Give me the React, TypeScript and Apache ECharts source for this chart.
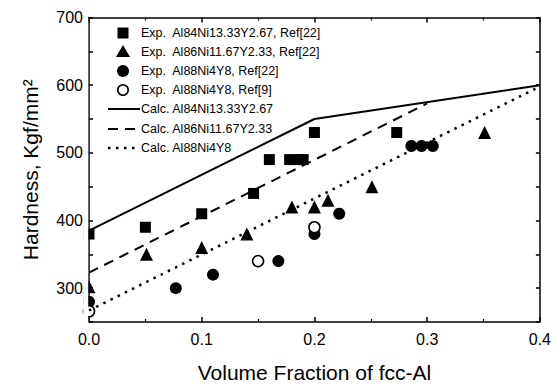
import React, { useEffect, useRef } from "react";
import * as echarts from "echarts";

// Experimental data: [volume fraction, hardness]
const expAl84: number[][] = [
  [0, 380], [0.05, 390], [0.1, 410], [0.146, 440], [0.16, 490],
  [0.178, 490], [0.186, 490], [0.19, 490], [0.2, 530], [0.273, 530],
];
const expAl86: number[][] = [
  [0, 302], [0.051, 350], [0.1, 360], [0.14, 380], [0.18, 420],
  [0.2, 420], [0.212, 430], [0.251, 450], [0.351, 530],
];
const expAl88Ref22: number[][] = [
  [0, 280], [0.077, 300], [0.11, 320], [0.168, 340], [0.2, 380],
  [0.222, 410], [0.286, 510], [0.295, 510], [0.305, 510],
];
const expAl88Ref9: number[][] = [
  [0, 266], [0.15, 340], [0.2, 390],
];
// Calculated curves
const calcAl84: number[][] = [[0, 385], [0.2, 550], [0.4, 600]];
const calcAl86: number[][] = [[0, 323], [0.3, 573]];
const calcAl88: number[][] = [[0, 267], [0.4, 598]];

const xLabels = ["0.0", "0.1", "0.2", "0.3", "0.4"];
const yLabels = [300, 400, 500, 600, 700];

const names = [
  "Exp.  Al84Ni13.33Y2.67, Ref[22]",
  "Exp.  Al86Ni11.67Y2.33, Ref[22]",
  "Exp.  Al88Ni4Y8, Ref[22]",
  "Exp.  Al88Ni4Y8, Ref[9]",
  "Calc. Al84Ni13.33Y2.67",
  "Calc. Al86Ni11.67Y2.33",
  "Calc. Al88Ni4Y8",
];

const FONT = "Liberation Sans, Arial, sans-serif";

function legendGraphics() {
  const rowY = [33, 52, 71, 90, 109, 129, 148];
  const sx = 123;
  const tx = 141;
  const els: any[] = [];
  const black = "#000";
  els.push({ type: "rect", shape: { x: sx - 5.5, y: rowY[0] - 5.5, width: 11, height: 11 }, style: { fill: black } });
  els.push({
    type: "polygon",
    shape: { points: [[sx, rowY[1] - 7], [sx + 7, rowY[1] + 5], [sx - 7, rowY[1] + 5]] },
    style: { fill: black },
  });
  els.push({ type: "circle", shape: { cx: sx, cy: rowY[2], r: 6 }, style: { fill: black } });
  els.push({ type: "circle", shape: { cx: sx, cy: rowY[3], r: 5.2 }, style: { fill: "#fff", stroke: black, lineWidth: 1.6 } });
  els.push({ type: "line", shape: { x1: 108, y1: rowY[4], x2: 140, y2: rowY[4] }, style: { stroke: black, lineWidth: 2 } });
  els.push({ type: "line", shape: { x1: 108, y1: rowY[5], x2: 140, y2: rowY[5] }, style: { stroke: black, lineWidth: 2, lineDash: [10, 7] } });
  els.push({ type: "line", shape: { x1: 108, y1: rowY[6], x2: 140, y2: rowY[6] }, style: { stroke: black, lineWidth: 2.5, lineDash: [2.5, 5.5] } });
  names.forEach((n, i) => {
    els.push({
      type: "text",
      x: tx,
      y: rowY[i],
      style: { text: n, fill: black, font: `12.5px ${FONT}`, textVerticalAlign: "middle", verticalAlign: "middle" },
    });
  });
  // white mask so that markers sitting on the left frame appear cut by it
  els.push({
    type: "rect",
    z: 100,
    silent: true,
    shape: { x: 83.2, y: 18, width: 5, height: 308 },
    style: { fill: "#fff" },
  });
  return els;
}

export default function App() {
  const ref = useRef<HTMLDivElement>(null);
  useEffect(() => {
    if (!ref.current) return;
    const chart = echarts.init(ref.current, null, { renderer: "svg" });
    const axisLine = { show: true, onZero: false, lineStyle: { color: "#000", width: 1.5 } };
    const xFmt = (v: number) => {
      const s = v.toFixed(1);
      return xLabels.includes(s) && Math.abs(v * 10 - Math.round(v * 10)) < 1e-6 ? s : "";
    };
    const yFmt = (v: number) => (yLabels.includes(Math.round(v)) ? String(Math.round(v)) : "");
    chart.setOption({
      animation: false,
      backgroundColor: "#fff",
      textStyle: { fontFamily: FONT, color: "#000" },
      grid: { left: 89, right: 12, top: 17.5, bottom: 62, containLabel: false },
      graphic: legendGraphics(),
      xAxis: [
        {
          type: "value",
          min: 0,
          max: 0.4,
          interval: 0.1,
          name: "Volume Fraction of fcc-Al",
          nameLocation: "middle",
          nameGap: 40,
          nameTextStyle: { fontFamily: FONT, fontSize: 21, color: "#000" },
          axisLine,
          axisTick: { show: true, inside: true, length: 5, lineStyle: { color: "#000", width: 1.5 } },
          minorTick: { show: true, splitNumber: 2, length: 3, lineStyle: { color: "#000", width: 1.2 } },
          axisLabel: { formatter: xFmt, fontFamily: FONT, fontSize: 16, color: "#000", margin: 9 },
          splitLine: { show: false },
        },
        {
          type: "value",
          position: "top",
          min: 0,
          max: 0.4,
          interval: 0.1,
          axisLine,
          axisTick: { show: true, inside: true, length: 5, lineStyle: { color: "#000", width: 1.5 } },
          minorTick: { show: true, splitNumber: 2, length: 3, lineStyle: { color: "#000", width: 1.2 } },
          axisLabel: { show: false },
          splitLine: { show: false },
        },
      ],
      yAxis: [
        {
          type: "value",
          min: 250,
          max: 700,
          interval: 50,
          name: "Hardness, Kgf/mm²",
          nameLocation: "middle",
          nameGap: 48,
          nameTextStyle: { fontFamily: FONT, fontSize: 21, color: "#000" },
          axisLine,
          axisTick: { show: true, inside: true, length: 4, lineStyle: { color: "#000", width: 1.5 } },
          axisLabel: { formatter: yFmt, fontFamily: FONT, fontSize: 16, color: "#000", margin: 6 },
          splitLine: { show: false },
        },
        {
          type: "value",
          position: "right",
          min: 250,
          max: 700,
          interval: 50,
          axisLine,
          axisTick: { show: true, inside: true, length: 4, lineStyle: { color: "#000", width: 1.5 } },
          axisLabel: { show: false },
          splitLine: { show: false },
        },
      ],
      series: [
        {
          name: names[0], type: "scatter", data: expAl84, symbol: "rect", symbolSize: 11,
          itemStyle: { color: "#000", opacity: 1 }, clip: true,
        },
        {
          name: names[1], type: "scatter", data: expAl86, symbol: "triangle", symbolSize: 13,
          itemStyle: { color: "#000", opacity: 1 }, clip: true,
        },
        {
          name: names[2], type: "scatter", data: expAl88Ref22, symbol: "circle", symbolSize: 12,
          itemStyle: { color: "#000", opacity: 1 }, clip: true,
        },
        {
          name: names[3], type: "scatter", data: expAl88Ref9, symbol: "circle", symbolSize: 11,
          itemStyle: { color: "#fff", borderColor: "#000", borderWidth: 1.6, opacity: 1 }, clip: true,
        },
        {
          name: names[4], type: "line", data: calcAl84, symbol: "none", showSymbol: false,
          lineStyle: { color: "#000", width: 2 }, itemStyle: { color: "#000" },
        },
        {
          name: names[5], type: "line", data: calcAl86, symbol: "none", showSymbol: false,
          lineStyle: { color: "#000", width: 2, type: [10, 7] }, itemStyle: { color: "#000" },
        },
        {
          name: names[6], type: "line", data: calcAl88, symbol: "none", showSymbol: false,
          lineStyle: { color: "#000", width: 2.5, type: [2.5, 5.5] }, itemStyle: { color: "#000" },
        },
      ],
    });
    return () => chart.dispose();
  }, []);
  return <div ref={ref} style={{ width: 554, height: 388, position: "absolute", left: 0, top: 0 }} />;
}
